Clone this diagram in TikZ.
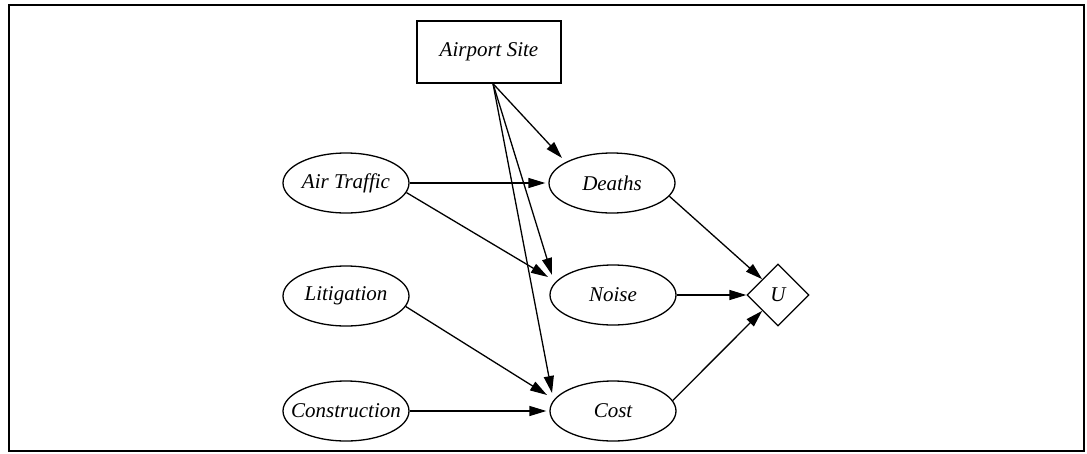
\documentclass[tikz,border=0pt]{standalone}
\usepackage{fontspec}
\setmainfont{Liberation Serif}
\usetikzlibrary{shapes.geometric,arrows.meta}
\tikzset{
  ell/.style={ellipse, draw, line width=1.3pt, minimum width=126pt, minimum height=60pt, inner sep=0pt, font=\fontsize{21}{25}\selectfont\itshape},
  boxnode/.style={rectangle, draw, line width=1.3pt, minimum width=144pt, minimum height=62pt, inner sep=0pt, font=\fontsize{21}{25}\selectfont\itshape},
  util/.style={diamond, draw, line width=1.3pt, minimum width=62pt, minimum height=62pt, inner sep=0pt, font=\fontsize{21}{25}\selectfont\itshape},
  arr/.style={line width=1.3pt, -{Triangle[length=17pt,width=10pt]}},
}
\begin{document}
\begin{tikzpicture}[x=1pt,y=-1pt]
\useasboundingbox (0,0) rectangle (1087,453);
\draw[line width=2pt] (9,5) rectangle (1084,451);
\node[boxnode] (site) at (489,52) {\makebox[0pt]{Airport Site}};
\node[ell] (at) at (346,183) {\makebox[0pt]{Air Traffic}};
\node[ell] (lit) at (346,296) {\makebox[0pt]{Litigation}};
\node[ell] (con) at (346,411) {\makebox[0pt]{Construction}};
\node[ell] (deaths) at (612,183) {\makebox[0pt]{Deaths}};
\node[ell] (noise) at (613,295) {\makebox[0pt]{Noise}};
\node[ell] (cost) at (613,411) {\makebox[0pt]{Cost}};
\node[util] (U) at (778,295) {\makebox[0pt]{U}};
\coordinate (s0) at ([xshift=4pt]site.south);
\draw[arr] (s0) -- ([shift={(-50,-25)}]deaths.center);
\draw[arr] (s0) -- ([shift={(-61,-20)}]noise.center);
\draw[arr] (s0) -- ([shift={(-61,-18)}]cost.center);
\draw[arr] (at.east) -- ([xshift=-3pt]deaths.west);
\draw[arr] (at.-9) -- ([shift={(-65,-18)}]noise.center);
\draw[arr] (lit.-10) -- ([shift={(-66,-16)}]cost.center);
\draw[arr] (con.east) -- ([xshift=-3pt]cost.west);
\draw[arr] (deaths.-13) -- (U.north west);
\draw[arr] (noise.east) -- (U.west);
\draw[arr] (cost.10) -- (U.south west);
\end{tikzpicture}
\end{document}
